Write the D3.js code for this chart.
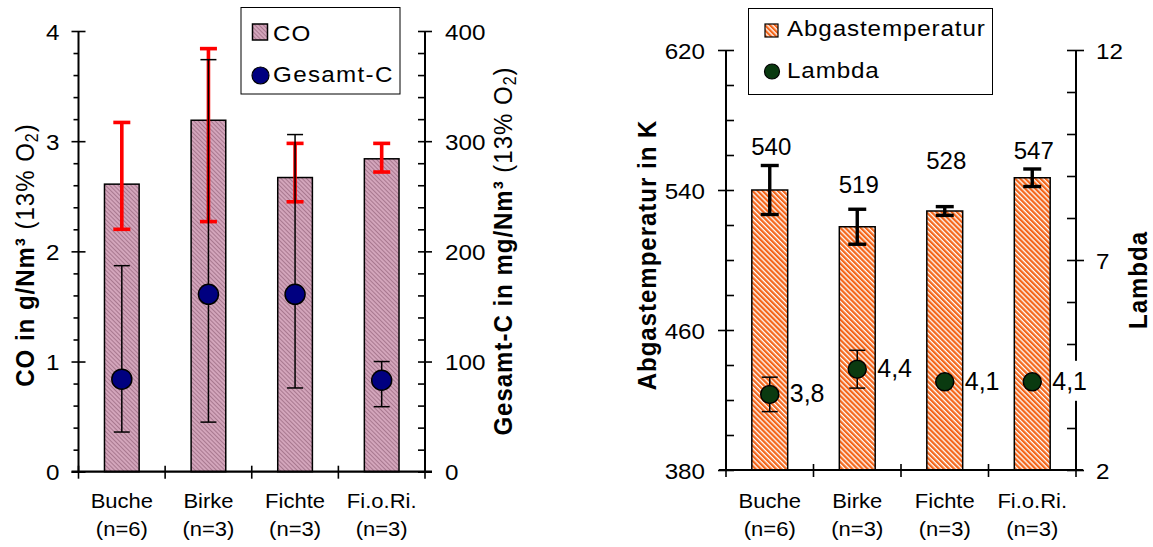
<!DOCTYPE html>
<html><head><meta charset="utf-8">
<script src="https://cdn.jsdelivr.net/npm/d3@7"></script>
<style>
html,body{margin:0;padding:0;background:#fff;}
svg{display:block;font-family:"Liberation Sans",Arial,Helvetica,sans-serif;}
</style></head>
<body><svg id="chart" width="1153" height="547"></svg>
<script>
// Fuel types and number of test runs
const categories = ["Buche", "Birke", "Fichte", "Fi.o.Ri."];
const sampleSizes = ["(n=6)", "(n=3)", "(n=3)", "(n=3)"];

// CO in g/Nm³ (13% O2): mean with min/max range
const coMean = [2.61, 3.19, 2.67, 2.84];
const coLow = [2.20, 2.27, 2.45, 2.72];
const coHigh = [3.17, 3.84, 2.98, 2.98];

// Gesamt-C in mg/Nm³ (13% O2): mean with min/max range
const totalC = [84, 161, 161, 83];
const totalCLow = [36, 45, 76, 59];
const totalCHigh = [187, 374, 306, 100];

// Abgastemperatur in K with deviation
const fluegasTemp = [540, 519, 528, 547];
const fluegasTempErr = [14, 10, 2.5, 5];

// Lambda with deviation
const lambdaMean = [3.8, 4.4, 4.1, 4.1];
const lambdaErr = [0.41, 0.45, 0, 0];

// Axis tick labels
const coTicks = [0, 1, 2, 3, 4];
const totalCTicks = [0, 100, 200, 300, 400];
const tempTicks = [380, 460, 540, 620];
const lambdaTicks = [2, 7, 12];

const svg = d3.select("#chart");
const SX = 1.1; // horizontal text stretch

// ---------- patterns ----------
const defs = svg.append("defs");
const pink = defs.append("pattern").attr("id", "pinkHatch")
  .attr("patternUnits", "userSpaceOnUse").attr("width", 3).attr("height", 3)
  .attr("patternTransform", "rotate(-45)");
pink.append("rect").attr("width", 3).attr("height", 3).attr("fill", "#d3a5bb");
pink.append("rect").attr("width", 1).attr("height", 3).attr("fill", "#a8788f");

const orange = defs.append("pattern").attr("id", "orangeHatch")
  .attr("patternUnits", "userSpaceOnUse").attr("width", 3.6).attr("height", 4)
  .attr("patternTransform", "rotate(-45)");
orange.append("rect").attr("width", 3.6).attr("height", 4).attr("fill", "#fff");
orange.append("rect").attr("width", 2.3).attr("height", 4).attr("fill", "#f4661b");

// ---------- helpers ----------
function label(g, x, y, str, o = {}) {
  const t = g.append("text")
    .attr("transform", `translate(${x},${y}) scale(${o.sx || SX},1)` + (o.rot ? ` rotate(${o.rot})` : ""))
    .attr("text-anchor", o.anchor || "start")
    .attr("font-size", o.size || 22)
    .attr("font-weight", o.weight || "normal")
    .attr("letter-spacing", o.ls || 0)
    .attr("fill", "#000");
  if (str !== null) t.text(str);
  return t;
}

function styleAxis(g, cross, outward) {
  g.select(".domain").remove();
  g.selectAll(".tick line").attr("stroke", "#000").attr("stroke-width", 1.6);
  if (cross) g.selectAll(".tick line").attr("x1", outward * -cross);
}

function stretchTickText(g, size) {
  g.selectAll(".tick text").each(function () {
    const t = d3.select(this);
    const x = +t.attr("x");
    t.attr("x", 0).attr("dy", null).attr("y", 8)
      .attr("transform", `translate(${x},0) scale(${SX},1)`)
      .attr("font-size", size).attr("font-family", null).attr("fill", "#000");
  });
}

function vline(g, x, y1, y2, w) {
  g.append("line").attr("x1", x).attr("x2", x).attr("y1", y1).attr("y2", y2)
    .attr("stroke", "#000").attr("stroke-width", w);
}

// =====================================================================
// Left chart: CO (bars) and Gesamt-C (markers)
// =====================================================================
const L = { x0: 78.5, x1: 425, top: 31, bot: 471.7 };
const gL = svg.append("g");

const xL = d3.scaleBand().domain(categories).range([L.x0, L.x1])
  .paddingInner(0.6).paddingOuter(0.3);
const yCO = d3.scaleLinear().domain([0, 4]).range([L.bot, L.top]);
const yC = d3.scaleLinear().domain([0, 400]).range([L.bot, L.top]);

// bars
gL.selectAll("rect.co").data(categories).join("rect").attr("class", "co")
  .attr("x", c => xL(c)).attr("width", xL.bandwidth())
  .attr("y", (c, i) => yCO(coMean[i]))
  .attr("height", (c, i) => L.bot - yCO(coMean[i]))
  .attr("fill", "url(#pinkHatch)").attr("stroke", "#000").attr("stroke-width", 1.5);

// CO range (red)
categories.forEach((c, i) => {
  const cx = xL(c) + xL.bandwidth() / 2;
  const g = gL.append("g").attr("stroke", "#ff0000").attr("stroke-width", 3.6);
  g.append("line").attr("x1", cx).attr("x2", cx).attr("y1", yCO(coLow[i])).attr("y2", yCO(coHigh[i]));
  [coLow[i], coHigh[i]].forEach(v => g.append("line").attr("x1", cx - 8.5).attr("x2", cx + 8.5)
    .attr("y1", yCO(v)).attr("y2", yCO(v)));
});

// Gesamt-C range (black)
categories.forEach((c, i) => {
  const cx = xL(c) + xL.bandwidth() / 2;
  const g = gL.append("g").attr("stroke", "#000").attr("stroke-width", 1.5);
  g.append("line").attr("x1", cx).attr("x2", cx).attr("y1", yC(totalCLow[i])).attr("y2", yC(totalCHigh[i]));
  [totalCLow[i], totalCHigh[i]].forEach(v => g.append("line").attr("x1", cx - 8).attr("x2", cx + 8)
    .attr("y1", yC(v)).attr("y2", yC(v)));
});

// Gesamt-C markers
gL.selectAll("circle.tc").data(categories).join("circle").attr("class", "tc")
  .attr("cx", c => xL(c) + xL.bandwidth() / 2)
  .attr("cy", (c, i) => yC(totalC[i])).attr("r", 10)
  .attr("fill", "#000080").attr("stroke", "#000").attr("stroke-width", 1.5);

// left axis (CO)
const minorCO = d3.range(0, 4.0001, 0.2).filter(v => Math.abs(v - Math.round(v)) > 1e-6);
gL.append("g").attr("transform", `translate(${L.x0},0)`)
  .call(d3.axisLeft(yCO).tickValues(minorCO).tickSize(5).tickFormat(""))
  .call(g => styleAxis(g));
const axCO = gL.append("g").attr("transform", `translate(${L.x0},0)`)
  .call(d3.axisLeft(yCO).tickValues(coTicks).tickSize(7).tickPadding(12).tickSizeOuter(0).tickFormat(d3.format("d")));
styleAxis(axCO, 7, -1);
stretchTickText(axCO, 22);

// right axis (Gesamt-C)
gL.append("g").attr("transform", `translate(${L.x1},0)`)
  .call(d3.axisLeft(yC).tickValues(minorCO.map(v => v * 100)).tickSize(7).tickFormat(""))
  .call(g => styleAxis(g));
const axC = gL.append("g").attr("transform", `translate(${L.x1},0)`)
  .call(d3.axisRight(yC).tickValues(totalCTicks).tickSize(7).tickPadding(13).tickSizeOuter(0).tickFormat(d3.format("d")));
styleAxis(axC, 7, 1);
stretchTickText(axC, 22);

vline(gL, L.x0, L.top, L.bot, 2);
vline(gL, L.x1, L.top, L.bot, 2);

// category axis
function categoryAxis(g, x, P) {
  const bounds = [P.x0].concat(x.domain().map(c => x(c) + x.bandwidth() / 2 + x.step() / 2));
  bounds.forEach(b => vline(g, b, P.bot - 6, P.bot + 7, 1.6));
  g.append("line").attr("x1", P.x0 - 7).attr("x2", P.x1 + 7).attr("y1", P.bot).attr("y2", P.bot)
    .attr("stroke", "#000").attr("stroke-width", 2.2);
  x.domain().forEach((c, i) => {
    const cx = x(c) + x.bandwidth() / 2;
    label(g, cx, 508, c, { anchor: "middle", size: 20 });
    label(g, cx, 536, sampleSizes[i], { anchor: "middle", size: 20 });
  });
}
categoryAxis(gL, xL, L);

// axis titles
function unitTitle(g, x, y, bold) {
  const t = label(g, x, y, null, { anchor: "middle", size: 24, rot: -90, ls: 1 });
  t.append("tspan").attr("font-weight", "bold").text(bold);
  t.append("tspan").text(" (13% O");
  t.append("tspan").attr("font-size", 16).attr("dy", 4).text("2");
  t.append("tspan").attr("dy", -4).text(")");
}
unitTitle(gL, 34, 255, "CO in g/Nm³");
unitTitle(gL, 512, 251, "Gesamt-C in mg/Nm³");

// legend
const lgL = gL.append("g");
lgL.append("rect").attr("x", 241).attr("y", 7.5).attr("width", 159).attr("height", 86.5)
  .attr("fill", "#fff").attr("stroke", "#000").attr("stroke-width", 1);
lgL.append("rect").attr("x", 252.5).attr("y", 24).attr("width", 15).attr("height", 16)
  .attr("fill", "url(#pinkHatch)").attr("stroke", "#000").attr("stroke-width", 1.5);
label(lgL, 273, 40.5, "CO", { size: 22, ls: 1 });
lgL.append("circle").attr("cx", 260.5).attr("cy", 75.5).attr("r", 8.5)
  .attr("fill", "#000080").attr("stroke", "#000").attr("stroke-width", 1.2);
label(lgL, 273, 81.5, "Gesamt-C", { size: 22, ls: 1.2 });

// =====================================================================
// Right chart: Abgastemperatur (bars) and Lambda (markers)
// =====================================================================
const R = { x0: 726, x1: 1076, top: 50, bot: 470 };
const gR = svg.append("g");

const xR = d3.scaleBand().domain(categories).range([R.x0, R.x1])
  .paddingInner(0.59).paddingOuter(0.295);
const yT = d3.scaleLinear().domain([380, 620]).range([R.bot, R.top]);
const yLam = d3.scaleLinear().domain([2, 12]).range([R.bot, R.top]);

gR.selectAll("rect.temp").data(categories).join("rect").attr("class", "temp")
  .attr("x", c => xR(c)).attr("width", xR.bandwidth())
  .attr("y", (c, i) => yT(fluegasTemp[i]))
  .attr("height", (c, i) => R.bot - yT(fluegasTemp[i]))
  .attr("fill", "url(#orangeHatch)").attr("stroke", "#000").attr("stroke-width", 1.5);

// temperature deviation
categories.forEach((c, i) => {
  const cx = xR(c) + xR.bandwidth() / 2;
  const lo = fluegasTemp[i] - fluegasTempErr[i], hi = fluegasTemp[i] + fluegasTempErr[i];
  const g = gR.append("g").attr("stroke", "#000").attr("stroke-width", 3.4);
  g.append("line").attr("x1", cx).attr("x2", cx).attr("y1", yT(lo)).attr("y2", yT(hi));
  [lo, hi].forEach(v => g.append("line").attr("x1", cx - 9).attr("x2", cx + 9).attr("y1", yT(v)).attr("y2", yT(v)));
});

// temperature value labels (lifted above each bar)
const tempLabelLift = [35, 34, 42, 19];
categories.forEach((c, i) => {
  const cx = xR(c) + xR.bandwidth() / 2 + 1.5;
  label(gR, cx, yT(fluegasTemp[i]) - tempLabelLift[i], String(fluegasTemp[i]), { anchor: "middle", size: 24, sx: 1 });
});

// lambda deviation
categories.forEach((c, i) => {
  if (!lambdaErr[i]) return;
  const cx = xR(c) + xR.bandwidth() / 2;
  const lo = lambdaMean[i] - lambdaErr[i], hi = lambdaMean[i] + lambdaErr[i];
  const g = gR.append("g").attr("stroke", "#000").attr("stroke-width", 1.5);
  g.append("line").attr("x1", cx).attr("x2", cx).attr("y1", yLam(lo)).attr("y2", yLam(hi));
  [lo, hi].forEach(v => g.append("line").attr("x1", cx - 8).attr("x2", cx + 8).attr("y1", yLam(v)).attr("y2", yLam(v)));
});

// right axis ticks (Lambda) — drawn before labels so labels can mask them
gR.append("g").attr("transform", `translate(${R.x1},0)`)
  .call(d3.axisLeft(yLam).tickValues(d3.range(3, 12).filter(v => !lambdaTicks.includes(v))).tickSize(9).tickFormat(""))
  .call(g => styleAxis(g));
const axLam = gR.append("g").attr("transform", `translate(${R.x1},0)`)
  .call(d3.axisRight(yLam).tickValues(lambdaTicks).tickSize(8).tickPadding(12).tickSizeOuter(0).tickFormat(d3.format("d")));
styleAxis(axLam, 9, 1);
stretchTickText(axLam, 22);
vline(gR, R.x1, R.top, R.bot, 2);

// lambda markers
gR.selectAll("circle.lam").data(categories).join("circle").attr("class", "lam")
  .attr("cx", c => xR(c) + xR.bandwidth() / 2)
  .attr("cy", (c, i) => yLam(lambdaMean[i])).attr("r", 9)
  .attr("fill", "#0a3a10").attr("stroke", "#000").attr("stroke-width", 1.5);

// lambda value labels with white box
categories.forEach((c, i) => {
  const cx = xR(c) + xR.bandwidth() / 2;
  const g = gR.append("g").attr("transform", `translate(${cx + 20},${yLam(lambdaMean[i]) + 8})`);
  const t = g.append("text").attr("font-size", 25).attr("fill", "#000")
    .text(d3.format(".1f")(lambdaMean[i]).replace(".", ","));
  const b = t.node().getBBox();
  g.insert("rect", "text").attr("x", b.x + 1).attr("y", b.y - 6)
    .attr("width", b.width).attr("height", b.height + 12).attr("fill", "#fff");
});

// left axis (temperature)
gR.append("g").attr("transform", `translate(${R.x0},0)`)
  .call(d3.axisRight(yT).tickValues(d3.range(400, 620, 20).filter(v => !tempTicks.includes(v))).tickSize(8).tickFormat(""))
  .call(g => styleAxis(g));
const axT = gR.append("g").attr("transform", `translate(${R.x0},0)`)
  .call(d3.axisLeft(yT).tickValues(tempTicks).tickSize(8).tickPadding(13).tickSizeOuter(0).tickFormat(d3.format("d")));
styleAxis(axT, 8, -1);
stretchTickText(axT, 22);
vline(gR, R.x0, R.top, R.bot, 2);

categoryAxis(gR, xR, R);

// axis titles
label(gR, 656, 255, "Abgastemperatur in K", { anchor: "middle", size: 24, weight: "bold", rot: -90, ls: 1 });
label(gR, 1147, 280, "Lambda", { anchor: "middle", size: 24, weight: "bold", rot: -90, ls: 1 });

// legend
const lgR = gR.append("g");
lgR.append("rect").attr("x", 748.5).attr("y", 8.5).attr("width", 244).attr("height", 86)
  .attr("fill", "#fff").attr("stroke", "#000").attr("stroke-width", 1);
lgR.append("rect").attr("x", 765).attr("y", 24).attr("width", 13).attr("height", 13)
  .attr("fill", "url(#orangeHatch)").attr("stroke", "#000").attr("stroke-width", 1.2);
label(lgR, 787, 35.5, "Abgastemperatur", { size: 22, ls: 0.8 });
lgR.append("circle").attr("cx", 772).attr("cy", 71.5).attr("r", 7.5)
  .attr("fill", "#0a3a10").attr("stroke", "#000").attr("stroke-width", 1.2);
label(lgR, 787, 78, "Lambda", { size: 22, ls: 0.8 });
</script>
</body></html>
